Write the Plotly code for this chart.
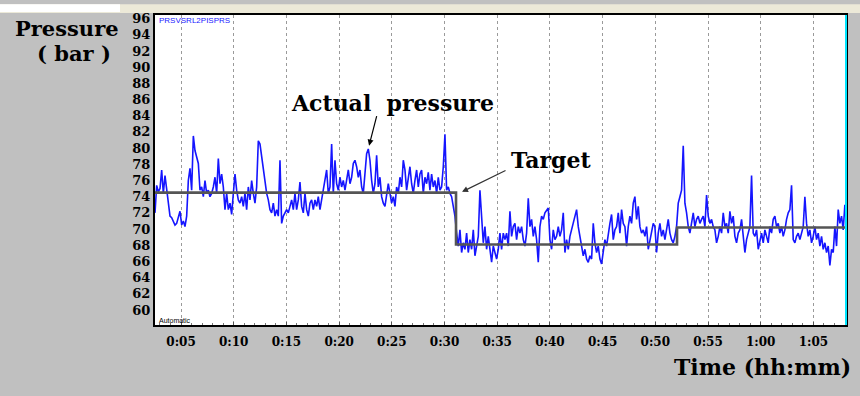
import plotly.graph_objects as go

# ---------------- data ----------------
sample_start_min = 2.53      # first sample time (minutes)
sample_step_min = 0.1581     # sampling interval (minutes)

pressure_part1 = [72.0, 75.4, 74.6, 75.0, 77.3, 74.4, 76.6, 74.8, 72.8, 71.6, 71.4, 71.0, 70.5, 70.7, 71.6,
                  72.2, 70.5, 71.0, 70.3, 71.6, 76.0, 77.5, 74.8, 81.5, 79.7, 78.9, 78.1, 74.8, 75.2, 74.0,
                  76.0, 74.4, 74.8, 74.0, 74.4, 75.2, 76.4, 74.4, 78.7, 75.6, 76.8, 75.2, 72.4, 74.4, 72.4,
                  73.2, 71.8, 74.4, 76.8, 74.8, 73.6, 73.2, 74.0, 72.8, 74.4, 72.4, 75.2, 73.6, 76.0, 74.4,
                  73.2, 75.2, 80.9, 80.5, 78.9, 77.3, 75.6, 74.4, 73.6, 72.4, 72.0, 73.2, 71.6, 72.4, 71.6,
                  78.5, 70.7, 71.6, 72.0, 72.4, 72.0, 72.8, 73.6, 72.4, 74.4, 72.4, 73.6, 75.8, 72.8, 72.0,
                  74.4, 72.4, 71.6, 73.2, 73.6, 72.4, 73.6, 72.8, 74.0, 72.4, 73.6, 74.4, 75.6, 77.3, 74.4]
pressure_part2 = [75.2, 80.5, 74.4, 78.5, 75.6, 74.8, 76.4, 75.2, 76.0, 74.8, 76.4, 77.3, 75.6, 76.4, 78.1,
                  78.5, 77.7, 76.4, 77.3, 75.2, 74.4, 76.4, 79.3, 79.9, 78.5, 76.0, 74.4, 75.6, 79.1, 75.2,
                  76.4, 74.0, 73.2, 72.8, 74.4, 75.6, 74.4, 73.2, 74.0, 72.8, 75.2, 74.4, 76.4, 75.2, 78.5,
                  77.3, 74.8, 76.4, 77.7, 75.6, 74.4, 76.0, 77.3, 75.2, 76.8, 77.3, 74.4, 76.4, 75.6, 77.0,
                  74.8, 76.8, 75.2, 76.0, 74.4, 76.4, 74.8, 75.2, 77.7, 81.7, 74.8, 75.2, 74.4, 74.0, 72.8,
                  71.6, 69.5, 67.9, 69.9, 67.1, 68.3, 67.5, 69.5, 67.1, 68.7, 67.5, 69.9, 66.7, 67.9, 69.1,
                  74.8, 72.0, 68.3, 70.3, 67.5, 69.1, 67.1, 65.9, 67.9, 67.1, 66.3, 67.5]
pressure_part3 = [69.5, 67.5, 69.5, 68.7, 69.5, 67.9, 72.2, 69.1, 70.3, 70.7, 68.7, 70.3, 69.5, 70.3, 68.7,
                  67.9, 69.5, 73.8, 70.3, 71.2, 69.1, 70.3, 68.7, 65.9, 70.3, 71.6, 71.2, 72.0, 72.4, 72.6,
                  68.7, 67.5, 69.9, 68.7, 69.1, 70.3, 69.1, 69.9, 72.0, 67.1, 68.7, 67.5, 69.1, 69.9, 70.7,
                  71.6, 72.4, 70.3, 69.1, 68.3, 66.7, 67.5, 66.3, 65.9, 66.7, 66.3, 70.7, 68.3, 67.1, 67.9,
                  66.3, 65.7, 67.5, 68.7, 67.9, 69.5, 70.7, 71.8, 68.7, 69.9, 70.3, 72.0, 69.5, 72.4, 70.7,
                  70.3, 67.9, 70.3, 71.6, 70.7, 73.2, 74.0, 71.2, 72.8, 70.3, 69.5, 69.9, 69.1, 70.3, 67.5,
                  68.7, 69.9, 70.7, 70.3, 67.1, 69.5, 70.7, 69.1, 69.9, 68.7, 70.3, 71.2]
pressure_part4 = [69.5, 68.7, 68.3, 69.1, 70.3, 73.2, 74.0, 74.8, 80.3, 73.2, 72.0, 70.3, 69.5, 70.7, 72.0,
                  70.3, 71.2, 71.6, 70.7, 71.2, 71.6, 70.3, 74.2, 71.6, 70.7, 71.2, 70.3, 69.9, 68.3, 69.1,
                  70.3, 69.5, 72.0, 70.3, 70.7, 69.5, 72.2, 70.7, 71.6, 69.1, 68.3, 69.5, 69.9, 71.2, 69.1,
                  67.1, 68.7, 69.5, 70.3, 76.6, 69.5, 69.1, 69.9, 67.5, 68.7, 69.5, 68.3, 69.9, 69.1, 68.3,
                  70.3, 69.5, 71.2, 71.6, 70.3, 70.7, 69.5, 70.3, 69.1, 69.9, 71.2, 72.0, 72.4, 75.4, 68.7,
                  68.3, 69.1, 69.5, 68.7, 69.5, 70.3, 74.0, 70.7, 69.1, 69.9, 68.3, 69.1, 70.3, 68.7, 69.5,
                  67.9, 69.1, 67.5, 68.3, 67.1, 67.9, 65.5, 67.5, 67.1, 70.3, 67.9, 72.4, 70.7, 71.6, 69.9,
                  73.0, 70.3]

target_times = [2.53, 31.09, 52.06, 68.2]
target_values = [74.5, 68.1, 70.2, 70.2]

tick_minutes = [5, 10, 15, 20, 25, 30, 35, 40, 45, 50, 55, 60, 65]
tick_labels = ["0:05", "0:10", "0:15", "0:20", "0:25", "0:30", "0:35",
               "0:40", "0:45", "0:50", "0:55", "1:00", "1:05"]
y_ticks = list(range(60, 97, 2))

# ---------------- build ----------------
pressure = pressure_part1 + pressure_part2 + pressure_part3 + pressure_part4
times = [sample_start_min + i * sample_step_min for i in range(len(pressure))]

fig = go.Figure()
fig.add_trace(go.Scatter(x=times, y=pressure, mode="lines",
                         line=dict(color="#1515ff", width=1.6), hoverinfo="skip"))
fig.add_trace(go.Scatter(x=target_times, y=target_values, mode="lines",
                         line=dict(color="#555555", width=2.6, shape="hv"), hoverinfo="skip"))

serif = "DejaVu Serif"
W, H = 860, 396
L, R, T, B = 155, 14, 11, 71
pw, ph = W - L - R, H - T - B


def px(x):
    return (x - L) / pw


def py(y):
    return (H - B - y) / ph


fig.update_layout(
    width=W, height=H, autosize=False,
    margin=dict(l=L, r=R, t=T, b=B, pad=0),
    paper_bgcolor="#c0c0c0", plot_bgcolor="white",
    showlegend=False,
    xaxis=dict(range=[2.53, 68.09], tickvals=tick_minutes, ticktext=tick_labels,
               showgrid=True, gridcolor="#9a9a9a", griddash="dot", gridwidth=1,
               zeroline=False, showline=True, linecolor="black", linewidth=2, mirror=True,
               ticks="inside", ticklen=3, tickcolor="#555", ticklabelstandoff=5,
               minor=dict(dtick=1, ticks="inside", ticklen=2, tickcolor="#777", showgrid=False),
               tickfont=dict(family=serif, size=12, color="black", weight="bold")),
    yaxis=dict(range=[58.15, 96.44], tickvals=y_ticks,
               showgrid=False, zeroline=False, showline=True, linecolor="black",
               linewidth=2, mirror=True, ticks="",
               tickfont=dict(family=serif, size=13, color="black", weight="bold")),
)

# frame decorations
fig.add_shape(type="rect", xref="paper", yref="paper", x0=px(0), x1=px(W), y0=py(9), y1=py(0),
              fillcolor="#ece9d8", line=dict(width=0), layer="below")
fig.add_shape(type="rect", xref="paper", yref="paper", x0=px(0), x1=px(120), y0=py(8), y1=py(0),
              fillcolor="white", line=dict(width=0), layer="below")
fig.add_shape(type="line", xref="paper", yref="paper", x0=1.0, x1=1.0, y0=0, y1=1,
              line=dict(color="#00e5ff", width=2))


def label(text, x, y, size, xanchor="center", family=serif, color="black", weight="bold"):
    fig.add_annotation(text=text, xref="paper", yref="paper", x=px(x), y=py(y),
                       xanchor=xanchor, yanchor="middle", showarrow=False,
                       font=dict(family=family, size=size, color=color, weight=weight))


label("Pressure", 67, 25, 21)
label("( bar )", 74, 50, 21)
label("Actual  pressure", 392, 100, 22)
label("Target", 551, 158, 22)
label("Time (hh:mm)", 672, 368, 22, xanchor="left")
label("PRSVSRL2PISPRS", 157, 17, 8, xanchor="left", family="Liberation Sans",
      color="#2020ff", weight="normal")
label("Automatic", 157, 320, 7, xanchor="left", family="Liberation Sans", weight="normal")

# arrows
fig.add_annotation(x=22.84, y=80.3, xref="x", yref="y", text="", showarrow=True,
                   ax=8, ay=-31, arrowhead=2, arrowsize=1, arrowwidth=1.2, arrowcolor="black")
fig.add_annotation(x=31.66, y=74.6, xref="x", yref="y", text="", showarrow=True,
                   ax=45, ay=-22, arrowhead=2, arrowsize=1, arrowwidth=1.2, arrowcolor="#333")

fig.write_html("out.html")
